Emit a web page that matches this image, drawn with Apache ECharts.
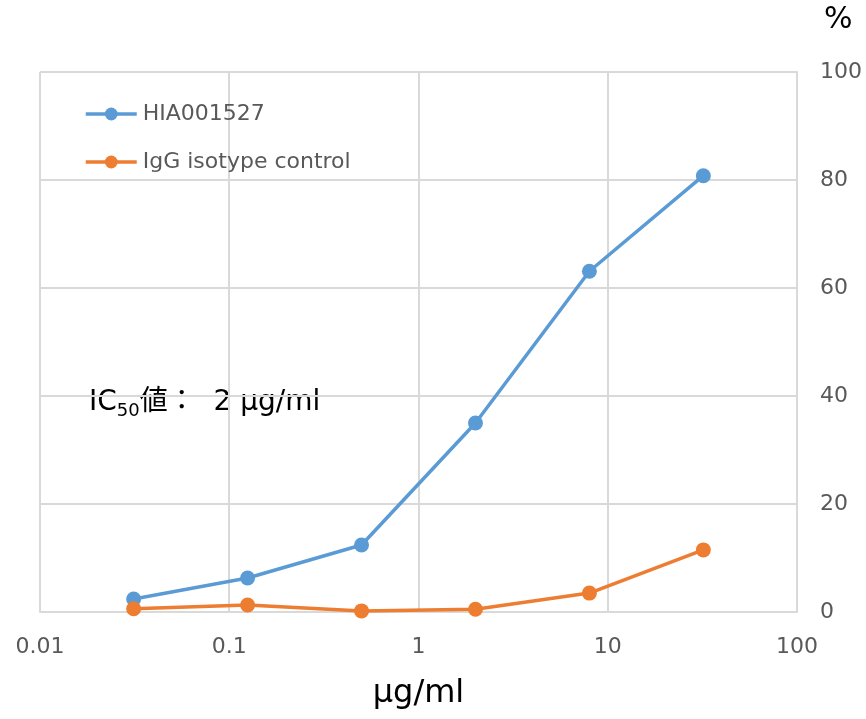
<!DOCTYPE html>
<html>
<head>
<meta charset="utf-8">
<script src="https://cdn.jsdelivr.net/npm/echarts@6/dist/echarts.min.js"></script>
<style>
html,body{margin:0;padding:0;background:#fff;}
#chart{width:866px;height:719px;}
</style>
</head>
<body>
<div id="chart"></div>
<script>
// Concentrations (μg/ml), 4-fold dilution series
const concentrations = [0.03125, 0.125, 0.5, 2, 8, 32];
// Inhibition (%)
const hiaValues = [2.4, 6.3, 12.4, 35.0, 63.1, 80.8];
const iggValues = [0.6, 1.3, 0.2, 0.5, 3.5, 11.5];
const seriesNames = ['HIA001527', 'IgG isotype control'];
const xTickLabels = ['0.01', '0.1', '1', '10', '100'];
const yTicks = [0, 20, 40, 60, 80, 100];

const FONT = "'DejaVu Sans', 'Noto Sans CJK JP', sans-serif";
const GREY = '#595959';
const BLUE = '#5B9BD5';
const ORANGE = '#ED7D31';

const chart = echarts.init(document.getElementById('chart'));
const pairs = vals => concentrations.map((c, i) => [c, vals[i]]);

chart.setOption({
  animation: false,
  backgroundColor: '#fff',
  textStyle: { fontFamily: FONT },
  grid: { left: 40, right: 69, top: 72, bottom: 107, containLabel: false },
  legend: {
    orient: 'vertical',
    left: 84, top: 103, padding: 0,
    itemWidth: 51, itemHeight: 16, itemGap: 26,
    lineStyle: { width: 3.5 },
    textStyle: { color: GREY, fontSize: 22, fontFamily: FONT, padding: [0,0,0,1] },
    data: seriesNames
  },
  xAxis: {
    type: 'log', logBase: 10, min: 0.01, max: 100,
    axisLine: { show: true, lineStyle: { color: '#d9d9d9', width: 2 } },
    axisTick: { show: false },
    axisLabel: {
      color: GREY, fontSize: 22, margin: 24, fontFamily: FONT,
      formatter: v => {
        const i = Math.round(Math.log10(v)) + 2;
        return xTickLabels[i] !== undefined ? xTickLabels[i] : '';
      }
    },
    splitLine: { show: true, lineStyle: { color: '#d9d9d9', width: 2 } },
    minorTick: { show: false },
    name: 'μg/ml', nameLocation: 'middle', nameGap: 66,
    nameTextStyle: { color: '#000', fontSize: 32, fontFamily: FONT }
  },
  yAxis: {
    type: 'value', position: 'right', min: yTicks[0], max: yTicks[yTicks.length-1], interval: 20,
    axisLine: { show: true, lineStyle: { color: '#d9d9d9', width: 2 } },
    axisTick: { show: false },
    axisLabel: { color: GREY, fontSize: 22, margin: 23, fontFamily: FONT },
    splitLine: { show: true, lineStyle: { color: '#d9d9d9', width: 2 } }
  },
  graphic: [
    {
      type: 'text', left: 824, top: 5,
      style: { text: '%', fill: '#000', fontSize: 30, fontFamily: FONT }
    },
    {
      type: 'text', left: 89, top: 389,
      style: {
        text: '{a|IC}{s|50}{a|値：  2 μg/ml}',
        fill: '#000',
        rich: {
          a: { fontSize: 28, lineHeight: 34, fontFamily: FONT, fill: '#000', verticalAlign: 'middle' },
          s: { fontSize: 18, lineHeight: 18, fontFamily: FONT, fill: '#000', verticalAlign: 'bottom' }
        }
      }
    }
  ],
  series: [
    {
      name: seriesNames[0], type: 'line', data: pairs(hiaValues),
      symbol: 'circle', symbolSize: 15,
      lineStyle: { color: BLUE, width: 3.5 },
      itemStyle: { color: BLUE }
    },
    {
      name: seriesNames[1], type: 'line', data: pairs(iggValues),
      symbol: 'circle', symbolSize: 15,
      lineStyle: { color: ORANGE, width: 3.5 },
      itemStyle: { color: ORANGE }
    }
  ]
});
</script>
</body>
</html>
